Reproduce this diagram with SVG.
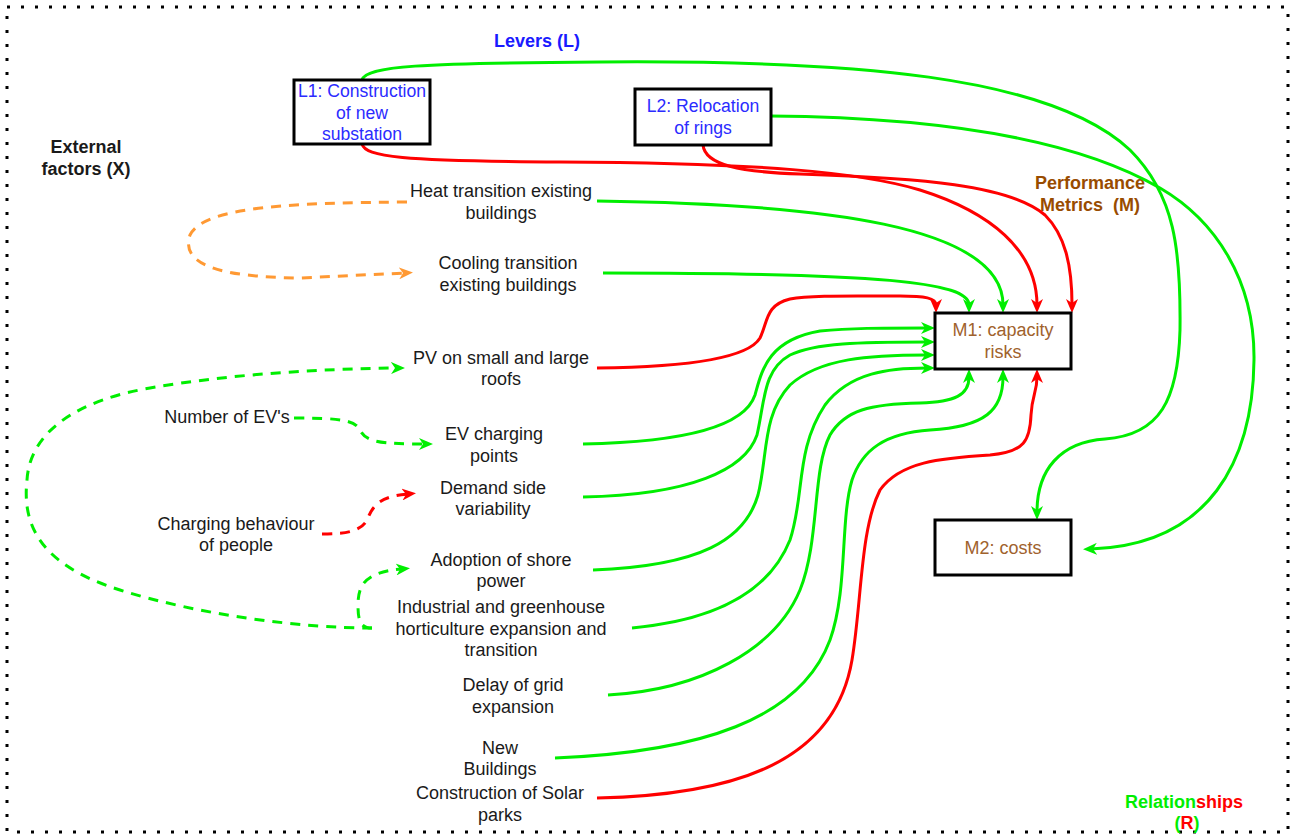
<svg xmlns="http://www.w3.org/2000/svg" width="1292" height="836" viewBox="0 0 1292 836">
<style>
text{font-family:"Liberation Sans",Arial,sans-serif;font-size:18px;text-anchor:middle;fill:#1a1a1a}
.b{font-weight:bold}
.box{fill:#fff;stroke:#000;stroke-width:3}
.lv{fill:#2b2bff;font-size:17.6px}
.mt{fill:#a0622d}
.c{fill:none;stroke-width:3}
.g{stroke:#00ee00}
.r{stroke:#ff0000}
.o{stroke:#ff9933}
.d{stroke-dasharray:10 8}
</style>
<defs>
<marker id="ag" viewBox="0 0 14 12" markerWidth="14" markerHeight="12" refX="6" refY="6" orient="auto" markerUnits="userSpaceOnUse"><path d="M0,0 L14,6 L0,12 L4,6 Z" fill="#00ee00"/></marker>
<marker id="ar" viewBox="0 0 14 12" markerWidth="14" markerHeight="12" refX="6" refY="6" orient="auto" markerUnits="userSpaceOnUse"><path d="M0,0 L14,6 L0,12 L4,6 Z" fill="#ff0000"/></marker>
<marker id="ao" viewBox="0 0 14 12" markerWidth="14" markerHeight="12" refX="6" refY="6" orient="auto" markerUnits="userSpaceOnUse"><path d="M0,0 L14,6 L0,12 L4,6 Z" fill="#ff9933"/></marker>
</defs>
<rect x="0" y="0" width="1292" height="836" fill="#fff"/>
<rect x="7" y="7" width="1281" height="825" fill="none" stroke="#000" stroke-width="3" stroke-dasharray="3 11"/>

<g id="labels">
<text class="b" x="537" y="47" style="fill:#1a1aff">Levers (L)</text>
<text class="b" x="86" y="153">External</text>
<text class="b" x="86" y="175">factors (X)</text>
<text class="b" x="1090" y="189" style="fill:#994c00">Performance</text>
<text class="b" x="1090" y="211" style="fill:#994c00" xml:space="preserve">Metrics  (M)</text>
<text class="b" x="1184" y="808"><tspan fill="#00ee00">Relation</tspan><tspan fill="#ff0000">ships</tspan></text>
<text class="b" x="1187" y="829"><tspan fill="#00ee00">(</tspan><tspan fill="#ff0000">R</tspan><tspan fill="#00ee00">)</tspan></text>
</g>

<g id="connectors">
<path class="c r" d="M362,144 C366,157 400,161 560,162 C760,163 860,172 920,190 C990,212 1037,250 1037,305" marker-end="url(#ar)"/>
<path class="c r" d="M703,145 C705,165 740,172 800,174 C920,178 1010,185 1045,215 C1065,235 1072,265 1072,305" marker-end="url(#ar)"/>
<path class="c g" d="M362,80 C366,66 420,63 600,62 C850,60 1050,75 1130,150 C1175,195 1181,250 1180,330 C1178,400 1160,435 1105,439 C1060,442 1037,470 1037,512" marker-end="url(#ag)"/>
<path class="c g" d="M770,116 C900,117 1060,130 1160,188 C1215,220 1255,280 1254,360 C1253,460 1210,545 1091,549" marker-end="url(#ag)"/>
<path class="c g" d="M597,201 C820,204 1003,225 1003,305" marker-end="url(#ag)"/>
<path class="c g" d="M603,273 C880,273 969,282 969,305" marker-end="url(#ag)"/>
<path class="c r" d="M597,368 C690,367 748,358 760,338 C768,322 765,305 790,299 C810,295 850,296 900,296 C925,296 936,298 936,305" marker-end="url(#ar)"/>
<path class="c g" d="M583,444 C690,442 745,425 755,395 C762,370 768,340 820,331 C850,328 880,328 927,328" marker-end="url(#ag)"/>
<path class="c g" d="M583,497 C690,495 745,470 757,435 C765,400 763,370 790,355 C815,343 860,342 927,342" marker-end="url(#ag)"/>
<path class="c g" d="M593,570 C700,566 745,540 758,495 C768,455 762,415 790,385 C820,358 870,355 927,355" marker-end="url(#ag)"/>
<path class="c g" d="M632,628 C720,620 770,590 790,540 C805,495 795,450 825,405 C850,372 890,368 927,368" marker-end="url(#ag)"/>
<path class="c g" d="M608,695 C700,690 775,650 800,590 C820,540 812,470 830,435 C845,410 870,404 920,403 C955,402 969,395 969,377" marker-end="url(#ag)"/>
<path class="c g" d="M555,758 C700,752 800,720 830,640 C848,590 840,520 852,480 C862,450 885,433 930,430 C985,427 1003,410 1003,377" marker-end="url(#ag)"/>
<path class="c r" d="M597,798 C740,795 835,760 852,660 C862,600 860,530 880,490 C900,462 940,458 990,455 C1025,452 1030,440 1031,415 C1032,395 1037,392 1037,377" marker-end="url(#ar)"/>
<path class="c o d" d="M407,202 C300,203 205,205 190,235 C180,265 220,277 300,278 L405,273" marker-end="url(#ao)"/>
<path class="c g d" d="M372,628 C300,628 200,615 120,590 C40,565 22,525 27,480 C30,430 80,400 150,388 C230,374 320,369 397,368" marker-end="url(#ag)"/>
<path class="c g d" d="M372,628 C360,628 358,620 358,605 C358,585 365,572 402,569" marker-end="url(#ag)"/>
<path class="c g d" d="M294,418 C340,418 355,420 360,430 C366,442 380,444 425,444" marker-end="url(#ag)"/>
<path class="c r d" d="M322,534 C345,534 362,532 368,518 C374,502 385,496 408,494" marker-end="url(#ar)"/>
</g>

<g id="L1"><rect class="box" x="294" y="80" width="136" height="64"/>
<text class="lv" x="362" y="97">L1: Construction</text><text class="lv" x="362" y="119">of new</text><text class="lv" x="362" y="140">substation</text></g>
<g id="L2"><rect class="box" x="635" y="89" width="136" height="56"/>
<text class="lv" x="703" y="112">L2: Relocation</text><text class="lv" x="703" y="134">of rings</text></g>
<g id="M1"><rect class="box" x="935" y="313" width="136" height="56"/>
<text class="mt" x="1003" y="336">M1: capacity</text><text class="mt" x="1003" y="358">risks</text></g>
<g id="M2"><rect class="box" x="935" y="520" width="136" height="55"/>
<text class="mt" x="1003" y="554">M2: costs</text></g>

<g id="X_heat"><text x="501" y="197">Heat transition existing</text><text x="501" y="219">buildings</text></g>
<g id="X_cool"><text x="508" y="269">Cooling transition</text><text x="508" y="291">existing buildings</text></g>
<g id="X_pv"><text x="501" y="364">PV on small and large</text><text x="501" y="385">roofs</text></g>
<g id="X_nev"><text x="227" y="423">Number of EV's</text></g>
<g id="X_evcp"><text x="494" y="440">EV charging</text><text x="494" y="462">points</text></g>
<g id="X_dsv"><text x="493" y="494">Demand side</text><text x="493" y="515">variability</text></g>
<g id="X_cbp"><text x="236" y="530">Charging behaviour</text><text x="236" y="551">of people</text></g>
<g id="X_shore"><text x="501" y="566">Adoption of shore</text><text x="501" y="587">power</text></g>
<g id="X_ind"><text x="501" y="613">Industrial and greenhouse</text><text x="501" y="635">horticulture expansion and</text><text x="501" y="656">transition</text></g>
<g id="X_delay"><text x="513" y="691">Delay of grid</text><text x="513" y="713">expansion</text></g>
<g id="X_new"><text x="500" y="754">New</text><text x="500" y="775">Buildings</text></g>
<g id="X_solar"><text x="500" y="799">Construction of Solar</text><text x="500" y="821">parks</text></g>
</svg>
